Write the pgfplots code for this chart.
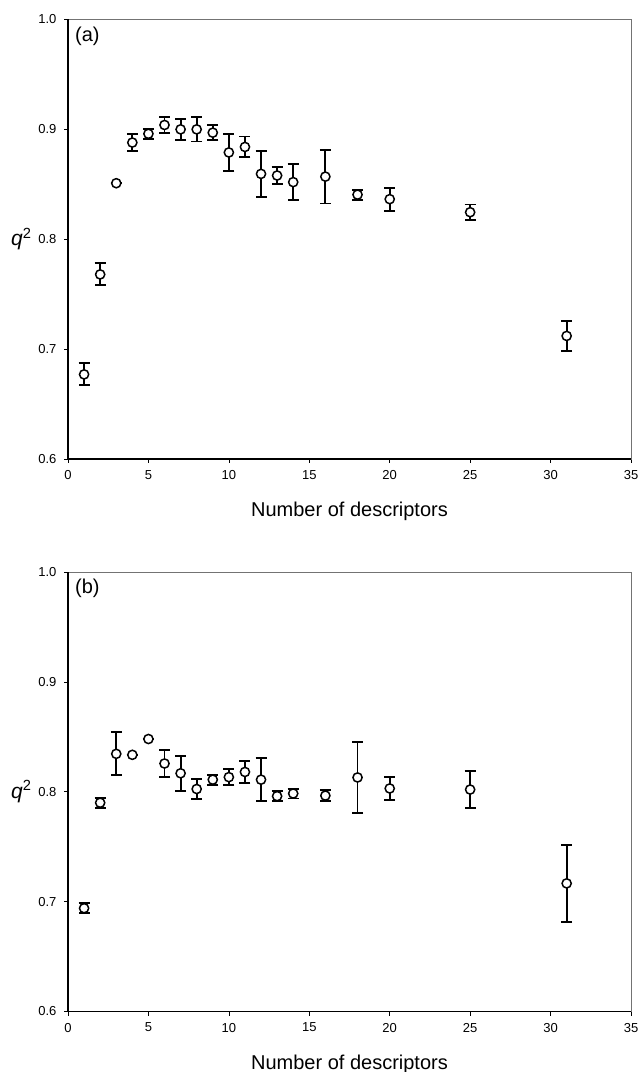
\documentclass[border=0pt]{standalone}
\usepackage{fontspec}
\setmainfont{Liberation Sans}
\usepackage{pgfplots}
\usepackage{pgfplotstable}
\pgfplotsset{compat=1.18}

\pgfplotstableread{
x y e
1 0.677 0.010
2 0.768 0.010
3 0.851 0
4 0.888 0.0075
5 0.896 0.0045
6 0.904 0.0075
7 0.900 0.0095
8 0.900 0.011
9 0.897 0.007
10 0.879 0.0165
11 0.884 0.0095
12 0.8595 0.021
13 0.858 0.008
14 0.852 0.0165
16 0.857 0.0245
18 0.8406 0.0045
20 0.8365 0.0105
25 0.8246 0.007
31 0.712 0.014
}\dataA

\pgfplotstableread{
x y e
1 0.694 0.0045
2 0.790 0.0045
3 0.8345 0.0195
4 0.8336 0
5 0.848 0
6 0.8257 0.0125
7 0.8168 0.016
8 0.8025 0.009
9 0.811 0.0045
10 0.8133 0.007
11 0.818 0.010
12 0.811 0.0195
13 0.796 0.0045
14 0.7984 0.0045
16 0.7965 0.005
18 0.813 0.032
20 0.803 0.0105
25 0.802 0.017
31 0.7166 0.035
}\dataB

\pgfplotsset{
  panel/.style={
    scale only axis, width=563pt, height=439.5pt,
    xmin=0, xmax=35, ymin=0.6, ymax=1.0,
    xtick={0,5,...,35}, ytick={0.6,0.7,0.8,0.9,1.0},
    xtick pos=bottom, ytick pos=left,
    yticklabel style={/pgf/number format/fixed, /pgf/number format/precision=1, /pgf/number format/fixed zerofill, xshift=-4pt},
    xticklabel style={yshift=-4pt},
    /pgf/number format/assume math mode=true,
    tick label style={font=\fontsize{13}{15}\selectfont},
    tick align=outside, major tick length=4pt,
    tick style={black, line width=0.7pt},
    axis line style={black!55, line width=0.6pt},
    xlabel={Number of descriptors},
    xlabel style={font=\fontsize{20}{24}\selectfont, at={(axis description cs:0.5,0)}, anchor=base, yshift=-58pt},
    ylabel={\textit{q}\textsuperscript{2}},
    ylabel style={rotate=-90, font=\fontsize{21}{24}\selectfont},
    clip=false,
  },
  dat/.style={black, line width=1.6pt, only marks, mark=*, mark size=4.6pt,
    mark options={fill=white, draw=black, line width=1.5pt},
    error bars/.cd, y dir=both, y explicit,
    error bar style={line width=1.9pt},
    error mark options={rotate=90, mark size=5.5pt, line width=1.9pt}},
}

\begin{document}
\begin{tikzpicture}
\path[use as bounding box] (0,0) rectangle (640pt,1072pt);

\begin{axis}[panel, at={(68pt,613pt)}, anchor=south west]
\addplot[dat] table[x=x, y=y, y error=e] {\dataA};
\draw[line width=1.3pt] (rel axis cs:0,1) -- (rel axis cs:0,0) -- (rel axis cs:1,0);
\node[anchor=north west, inner sep=0pt, font=\fontsize{20}{24}\selectfont] at ([xshift=7pt,yshift=-7pt]rel axis cs:0,1) {(a)};
\end{axis}

\begin{axis}[panel, at={(68pt,60.5pt)}, anchor=south west]
\addplot[dat] table[x=x, y=y, y error=e] {\dataB};
\draw[line width=1.3pt] (rel axis cs:0,1) -- (rel axis cs:0,0) -- (rel axis cs:1,0);
\node[anchor=north west, inner sep=0pt, font=\fontsize{20}{24}\selectfont] at ([xshift=7pt,yshift=-7pt]rel axis cs:0,1) {(b)};
\end{axis}
\end{tikzpicture}
\end{document}
